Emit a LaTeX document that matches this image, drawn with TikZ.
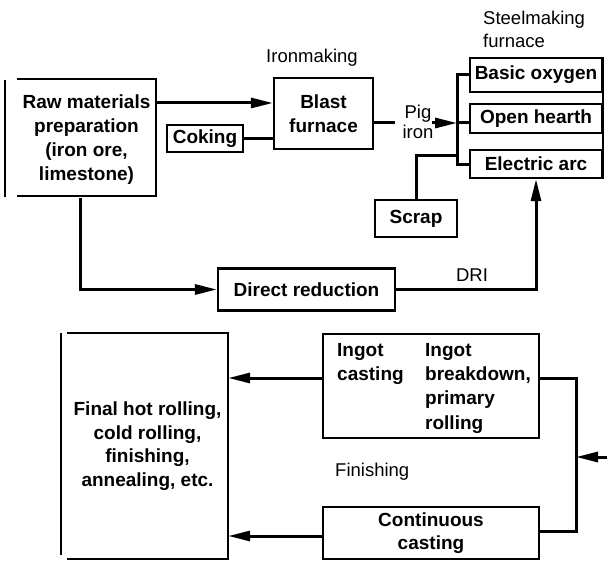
\documentclass[tikz,border=0pt]{standalone}
\usepackage{fontspec}
\setmainfont{Liberation Sans}
\usetikzlibrary{arrows.meta}
\begin{document}
\begin{tikzpicture}[x=1pt,y=-1pt,
  boxline/.style={line width=2.2pt},
  box/.style={draw, boxline, inner sep=0pt, font=\bfseries\fontsize{19}{23.5}\selectfont, align=center},
  plainbox/.style={inner sep=0pt, font=\bfseries\fontsize{19}{23.5}\selectfont, align=center},
  btxt/.style={inner sep=0pt, font=\bfseries\fontsize{19}{24.3}\selectfont, align=left},
  lbl/.style={inner sep=0pt, font=\fontsize{18.5}{22.5}\selectfont, align=left},
  flow/.style={line width=3pt},
  arr/.style={flow, -{Triangle[length=22pt,width=10pt]}},
]
\useasboundingbox (0,0) rectangle (607,561);

% ---- nodes ----
\node[plainbox, minimum width=139pt, minimum height=117pt, font=\bfseries\fontsize{19}{24}\selectfont] (raw) at (86.5,139.5)
  {Raw materials\\preparation\\(iron ore,\\limestone)};
\node[box, minimum width=76pt, minimum height=27pt] (coking) at (205,138.5) {Coking};
\node[box, minimum width=99pt, minimum height=71pt] (blast) at (323.5,113.5) {Blast\\furnace};
\node[box, minimum width=132pt, minimum height=34pt] (basic) at (536,75) {Basic oxygen};
\node[box, minimum width=132pt, minimum height=29pt] (open) at (536,118.5) {Open hearth};
\node[box, minimum width=132pt, minimum height=28pt] (elec) at (536,164) {Electric arc};
\node[box, minimum width=82pt, minimum height=37pt] (scrap) at (416,218.5) {Scrap};
\node[box, minimum width=177pt, minimum height=42pt] (dr) at (306.5,289.5) {Direct reduction};
\node[plainbox, minimum width=161pt, minimum height=226pt] (final) at (147.5,446)
  {Final hot rolling,\\cold rolling,\\finishing,\\annealing, etc.};
\node[box, minimum width=216pt, minimum height=104pt] (ingot) at (431,386) {};
\node[btxt, anchor=north west] (ingcast) at (337,343) {Ingot\\casting};
\node[btxt, anchor=north west] (ingbreak) at (425,343) {Ingot\\breakdown,\\primary\\rolling};
\node[box, minimum width=216pt, minimum height=52pt] (cont) at (431,533) {Continuous\\casting};

% ---- labels ----
\node[lbl] (ironlbl) at (312,58) {Ironmaking};
\node[lbl, align=center, font=\fontsize{18.5}{20}\selectfont] (piglbl) at (418,122) {Pig\\iron};
\node[lbl, anchor=west] (steellbl) at (483,29.5) {Steelmaking\\furnace};
\node[lbl] (drilbl) at (472,275) {DRI};
\node[lbl, anchor=west] (finlbl) at (335,472) {Finishing};

% ---- open box edges ----
\draw[boxline] ([yshift=2pt]raw.north west) -- ([yshift=2pt]raw.north east) -- ([yshift=2pt]raw.south east) -- ([yshift=2pt]raw.south west);
\draw[line width=2.6pt] (5,80) -- (5,197);
\draw[boxline] (final.north west) -- (final.north east) -- (final.south east) -- (final.south west);
\draw[line width=2.6pt] (61,333) -- (61,555);
\draw[boxline] (basic.north east) -- (elec.south east);

% ---- coordinates ----
\coordinate (pigA) at (395,123);
\coordinate (pigB) at (432,123);
\coordinate (busT) at (457,75);
\coordinate (busP) at (457,123);
\coordinate (busS) at (457,156);
\coordinate (busB) at (457,165);
\coordinate (rbT) at (576,378);
\coordinate (rbB) at (576,531);
\coordinate (rbM) at (576,457);
\coordinate (inR) at (612,457);

% ---- connectors ----
\draw[arr] (raw.east |- 0,103) -- (blast.west |- 0,103);
\draw[flow] (coking.east) -- (coking.east -| blast.west);
\draw[flow] (blast.east |- pigA) -- (pigA);
\draw[arr] (pigB) -- (busP);
\draw[flow] (busP) -- (open.west |- busP);
\draw[flow] (basic.west) -- (busT) -- (busB) -- (elec.west |- busB);
\draw[flow] (scrap.north) -- (scrap.north |- busS) -- (busS);
\draw[arr] (raw.south -| 80,0) |- (dr.west);
\draw[arr] (dr.east) -| (elec.south);
\draw[arr] (ingot.west |- rbT) -- (final.east |- rbT);
\draw[arr] (cont.west |- 0,536) -- (final.east |- 0,536);
\draw[flow] (ingot.east |- rbT) -- (rbT) -- (rbB) -- (cont.east |- rbB);
\draw[arr] (inR) -- (rbM);
\end{tikzpicture}
\end{document}
